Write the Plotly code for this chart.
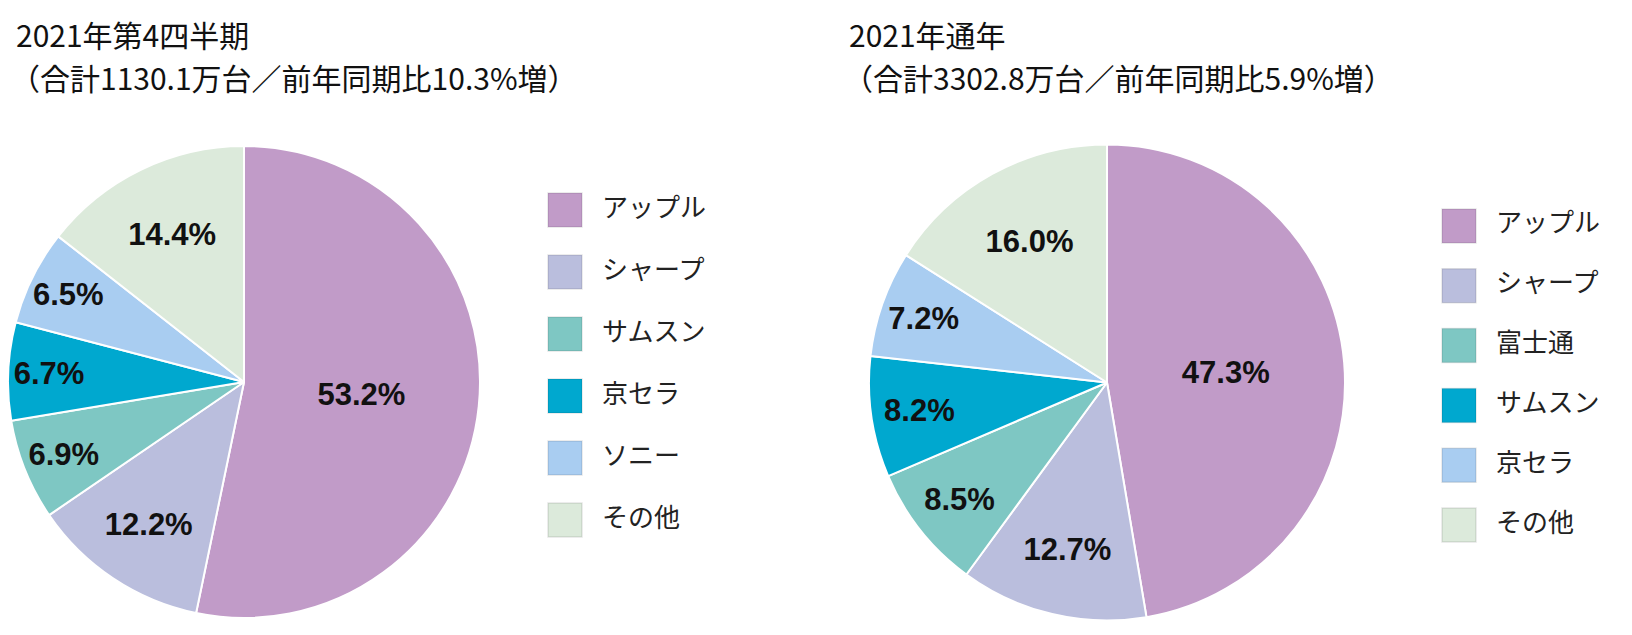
import plotly.graph_objects as go

# データ
q4_names = ["アップル", "シャープ", "サムスン", "京セラ", "ソニー", "その他"]
q4_share = [53.2, 12.2, 6.9, 6.7, 6.5, 14.4]

year_names = ["アップル", "シャープ", "富士通", "サムスン", "京セラ", "その他"]
year_share = [47.3, 12.7, 8.5, 8.2, 7.2, 16.0]

colors = ["#C19BC8", "#BABEDD", "#7EC7C3", "#00A8CF", "#A9CDF1", "#DCEADB"]

titles = [
    ["2021年第4四半期", "（合計1130.1万台／前年同期比10.3%増）"],
    ["2021年通年", "（合計3302.8万台／前年同期比5.9%増）"],
]

JP = "Noto Sans CJK JP"
W, H = 1632, 635
OFF = 8  # ページ本体の余白ぶん


def px(x):
    return max(0.0, (x - OFF) / W)


def py(y):
    return min(1.0, 1 - (y - OFF) / H)


fig = go.Figure()


def add_pie(names, values, left, right, top, bottom):
    fig.add_trace(go.Pie(
        labels=names,
        values=values,
        sort=False,
        direction="clockwise",
        marker=dict(colors=colors, line=dict(color="white", width=2)),
        texttemplate="%{value:.1f}%",
        textposition="inside",
        insidetextorientation="horizontal",
        textfont=dict(family="Liberation Sans", size=31, color="#111", weight="bold"),
        domain=dict(x=[px(left), px(right)], y=[py(bottom), py(top)]),
        showlegend=False,
        hoverinfo="label+value",
    ))


add_pie(q4_names, q4_share, 8, 480, 146, 618)
add_pie(year_names, year_share, 869, 1345, 144, 621)


# 凡例（大きな四角）を散布図で作る
def add_legend(names, xa, ya):
    idx = list(range(len(names)))
    fig.add_trace(go.Scatter(
        x=[0] * len(names), y=idx, mode="markers",
        marker=dict(symbol="square", size=34, color=colors,
                    line=dict(color="rgba(0,0,0,0.10)", width=1.5)),
        cliponaxis=False,
        xaxis=xa, yaxis=ya, showlegend=False, hoverinfo="skip",
    ))
    fig.add_trace(go.Scatter(
        x=[1] * len(names), y=idx, mode="text", text=names,
        textposition="middle right",
        textfont=dict(family=JP, size=26, color="#222"),
        cliponaxis=False,
        xaxis=xa, yaxis=ya, showlegend=False, hoverinfo="skip",
    ))


add_legend(q4_names, "x", "y")
add_legend(year_names, "x2", "y2")

hidden = dict(visible=False, showgrid=False, zeroline=False, fixedrange=True)

for i, (l1, l2) in enumerate(titles):
    x0 = [14, 847][i]
    fig.add_annotation(text=l1, x=px(x0), y=py(34), xref="paper", yref="paper",
                       xanchor="left", yanchor="middle", showarrow=False,
                       font=dict(family=JP, size=30, color="#111"))
    fig.add_annotation(text=l2, x=px(x0 - 6), y=py(77), xref="paper", yref="paper",
                       xanchor="left", yanchor="middle", showarrow=False,
                       font=dict(family=JP, size=30, color="#111"))

fig.update_layout(
    width=W, height=H,
    margin=dict(l=0, r=0, t=0, b=0),
    paper_bgcolor="white", plot_bgcolor="white",
    xaxis=dict(domain=[px(565), px(602)], range=[0, 1], **hidden),
    yaxis=dict(domain=[py(551), py(179)], range=[5.5, -0.5], **hidden),
    xaxis2=dict(domain=[px(1459), px(1496)], range=[0, 1], **hidden),
    yaxis2=dict(domain=[py(555), py(196)], range=[5.5, -0.5], **hidden),
)

fig.write_html("out.html")
